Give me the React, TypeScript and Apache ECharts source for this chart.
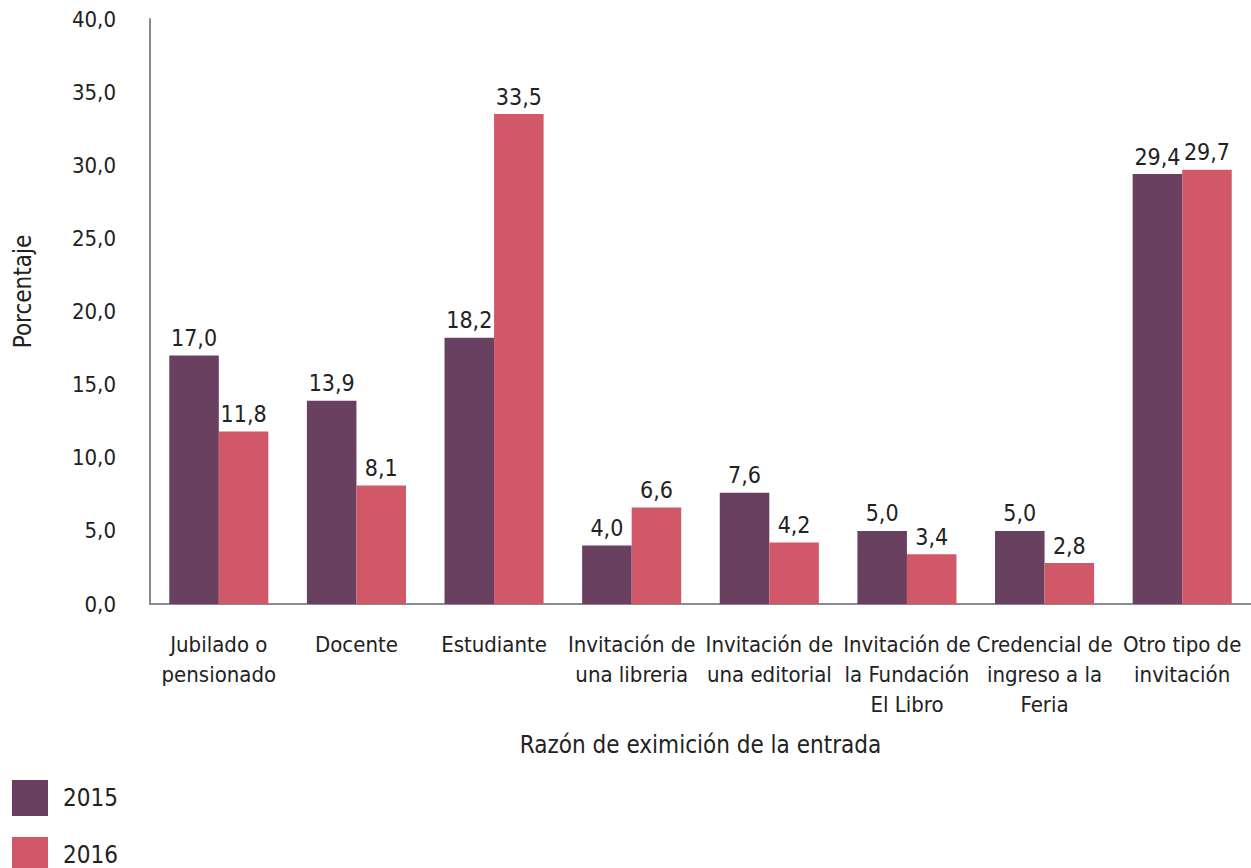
import React, { useEffect, useRef } from "react";
import * as echarts from "echarts";

const categories = [
  "Jubilado o\npensionado",
  "Docente",
  "Estudiante",
  "Invitación de\nuna libreria",
  "Invitación de\nuna editorial",
  "Invitación de\nla Fundación\nEl Libro",
  "Credencial de\ningreso a la\nFeria",
  "Otro tipo de\ninvitación",
];
const values2015 = [17.0, 13.9, 18.2, 4.0, 7.6, 5.0, 5.0, 29.4];
const values2016 = [11.8, 8.1, 33.5, 6.6, 4.2, 3.4, 2.8, 29.7];
const seriesNames = ["2015", "2016"];

const FONT = '"DejaVu Sans Condensed", "DejaVu Sans", sans-serif';
const TEXT = "#222";
const fmt = (v: number) => v.toFixed(1).replace(".", ",");

export default function App() {
  const ref = useRef<HTMLDivElement>(null);
  useEffect(() => {
    document.body.style.margin = "0";
    const chart = echarts.init(ref.current!, null, { renderer: "svg" });
    const label = {
      show: true,
      position: "top",
      distance: 6,
      fontFamily: FONT,
      fontSize: 23,
      color: TEXT,
      formatter: (p: any) => fmt(p.value),
    };
    const legendBase = {
      orient: "vertical",
      left: 12,
      padding: 0,
      itemWidth: 36,
      itemHeight: 36,
      icon: "rect",
      textStyle: { fontFamily: FONT, fontSize: 24, color: TEXT, padding: [0, 0, 0, 10] },
    };
    chart.setOption({
      animation: false,
      textStyle: { fontFamily: FONT },
      grid: { left: 150, right: 0, top: 19, bottom: 264, containLabel: false },
      legend: [
        { ...legendBase, top: 780, data: [seriesNames[0]] },
        { ...legendBase, top: 837, data: [seriesNames[1]] },
      ],
      xAxis: {
        type: "category",
        data: categories,
        name: "Razón de eximición de la entrada",
        nameLocation: "middle",
        nameGap: 129,
        nameTextStyle: { fontFamily: FONT, fontSize: 24, color: TEXT },
        axisLine: { lineStyle: { color: "#898c90", width: 2 } },
        axisTick: { show: false },
        axisLabel: {
          interval: 0,
          margin: 25,
          fontFamily: FONT,
          fontSize: 22,
          lineHeight: 30,
          color: TEXT,
        },
      },
      yAxis: {
        type: "value",
        min: 0,
        max: 40,
        interval: 5,
        name: "Porcentaje",
        nameLocation: "middle",
        nameGap: 115,
        nameTextStyle: { fontFamily: FONT, fontSize: 24, color: TEXT, padding: [0, 0, 0, 40] },
        axisLine: { show: true, lineStyle: { color: "#898c90", width: 2 } },
        axisTick: { show: false },
        splitLine: { show: false },
        axisLabel: {
          margin: 34,
          fontFamily: FONT,
          fontSize: 22,
          color: TEXT,
          formatter: (v: number) => fmt(v),
        },
      },
      series: [
        {
          name: seriesNames[0],
          type: "bar",
          data: values2015,
          barWidth: "36%",
          barGap: "0%",
          itemStyle: { color: "#6a4060" },
          label,
        },
        {
          name: seriesNames[1],
          type: "bar",
          data: values2016,
          barWidth: "36%",
          barGap: "0%",
          itemStyle: { color: "#d05868" },
          label,
        },
      ],
    });
    return () => chart.dispose();
  }, []);
  return <div ref={ref} style={{ width: 1251, height: 868 }} />;
}
